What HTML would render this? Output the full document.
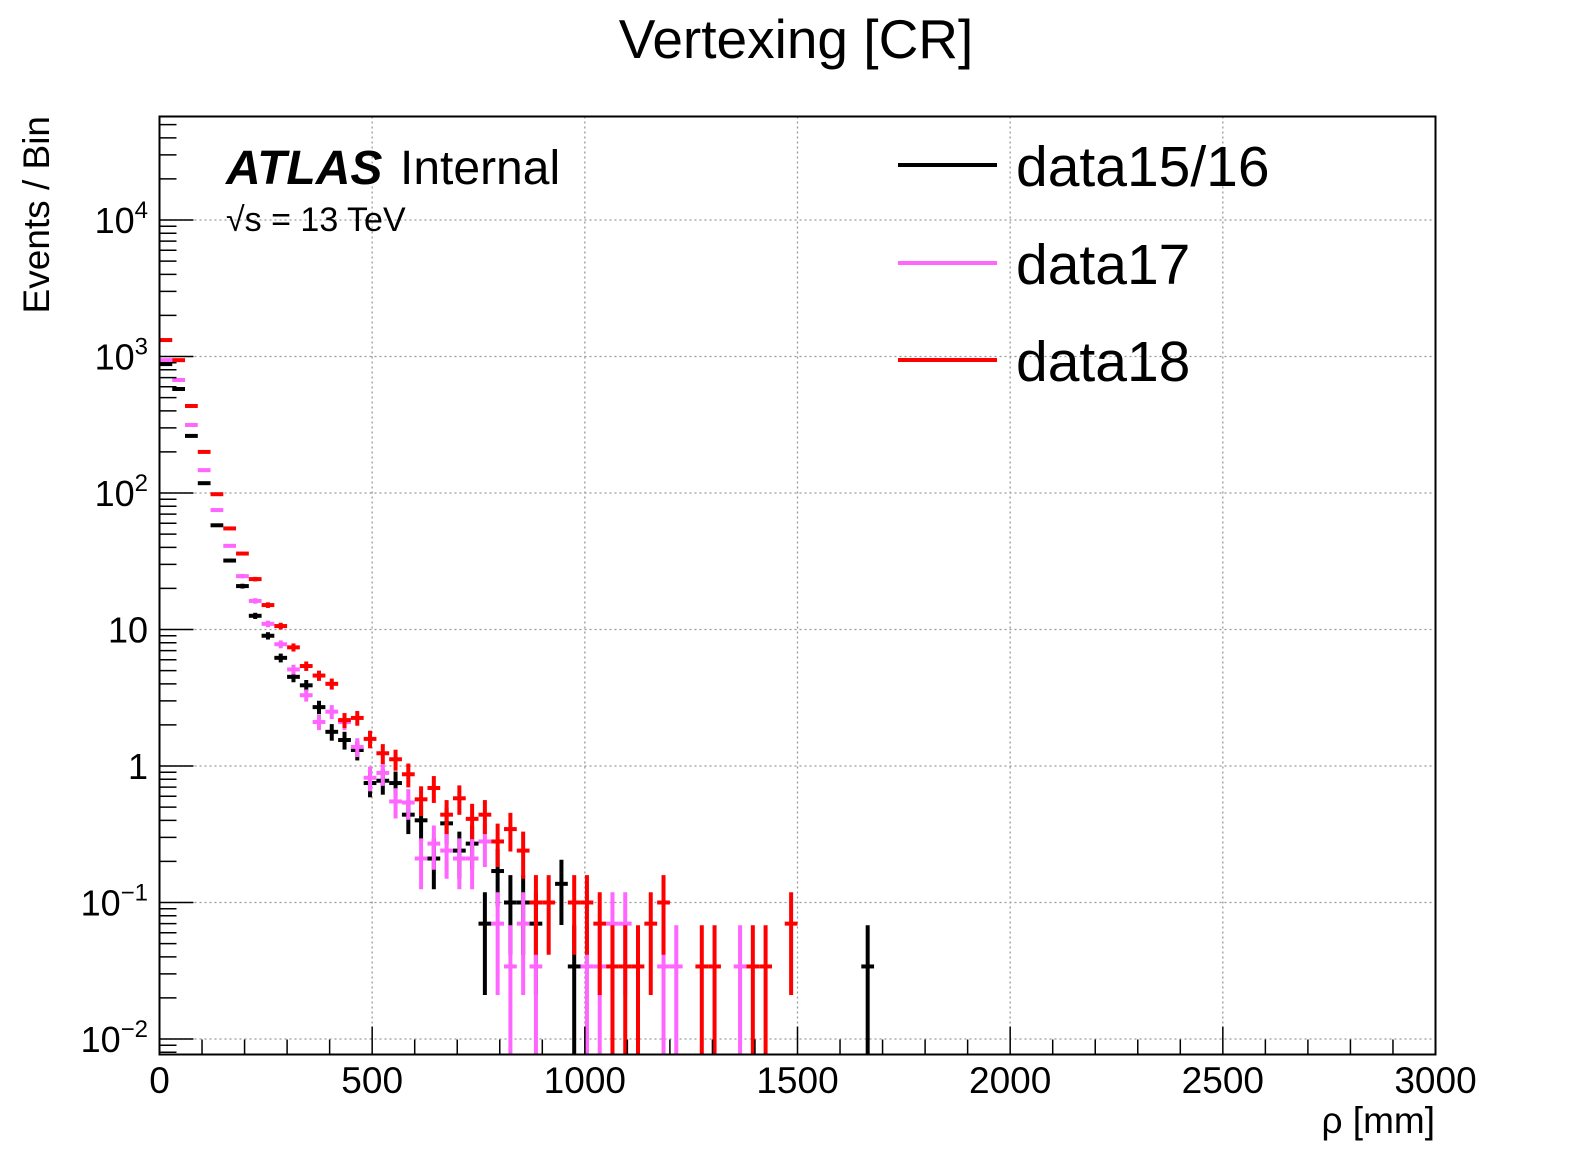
<!DOCTYPE html>
<html>
<head>
<meta charset="utf-8">
<style>
  html, body { margin: 0; padding: 0; background: #fff; }
  svg { display: block; font-family: "Liberation Sans", Arial, sans-serif; }
</style>
</head>
<body>
<svg id="chart" width="1596" height="1172" viewBox="0 0 1596 1172" xmlns="http://www.w3.org/2000/svg">
  <rect x="0" y="0" width="1596" height="1172" fill="#fff"/>
  <text x="796" y="58" font-size="55" text-anchor="middle">Vertexing [CR]</text>
  <g id="grid"></g>
  <g id="series"></g>
  <g id="axes"></g>
  <text x="226" y="184" font-size="48" font-weight="bold" font-style="italic">ATLAS</text>
  <text x="400" y="184" font-size="48">Internal</text>
  <text x="226" y="231" font-size="34">√s = 13 TeV</text>
  <g>
    <g>
      <line x1="898" y1="165" x2="997" y2="165" stroke="#000" stroke-width="4"/>
      <text x="1016" y="186" font-size="57">data15/16</text>
    </g>
    <g>
      <line x1="898" y1="263" x2="997" y2="263" stroke="#ff66ff" stroke-width="4"/>
      <text x="1016" y="284" font-size="57">data17</text>
    </g>
    <g>
      <line x1="898" y1="360" x2="997" y2="360" stroke="#ff0000" stroke-width="4"/>
      <text x="1016" y="381" font-size="57">data18</text>
    </g>
  </g>
  <text x="1435" y="1133" font-size="37" text-anchor="end">ρ [mm]</text>
  <text transform="translate(49,116) rotate(-90)" font-size="37" text-anchor="end">Events / Bin</text>
</svg>
<script>
// ---- data ----
const binWidth = 30; // mm
const xTicks = [0, 500, 1000, 1500, 2000, 2500, 3000];
const yTickExps = [-2, -1, 0, 1, 2, 3, 4];
const scaleW = 0.0343; // per-event weight for error bars
const data1516 = [880, 578, 262, 118, 58, 32, 20.8, 12.6, 9.0, 6.2, 4.5, 3.9, 2.7, 1.78, 1.55, 1.31, 0.75, 0.78, 0.75, 0.44, 0.40, 0.21, 0.38, 0.24, 0.27, 0.07, 0.17, 0.10, 0.10, 0.07, null, 0.137, 0.034, null, null, null, null, null, null, null, null, null, null, null, null, null, null, null, null, null, null, null, null, null, null, 0.034];
const data17 = [940, 673, 315, 147, 75, 41, 24.6, 16.2, 11, 7.8, 5.1, 3.3, 2.1, 2.5, 2.1, 1.38, 0.82, 0.89, 0.55, 0.54, 0.21, 0.27, 0.24, 0.21, 0.21, 0.28, 0.07, 0.034, 0.07, 0.034, null, null, null, 0.034, 0.034, 0.07, 0.07, null, null, 0.034, 0.034, null, null, null, null, 0.034];
const data18 = [1320, 940, 434, 200, 98, 55, 36, 23.4, 15.1, 10.6, 7.4, 5.4, 4.6, 4.0, 2.17, 2.25, 1.58, 1.24, 1.12, 0.87, 0.57, 0.69, 0.44, 0.58, 0.41, 0.44, 0.28, 0.345, 0.24, 0.10, 0.10, null, 0.10, 0.10, 0.07, 0.034, 0.034, 0.034, 0.07, 0.10, null, null, 0.034, 0.034, null, null, 0.034, 0.034, null, 0.07];

// ---- geometry ----
const L = 159.5, R = 1435.5, T = 116.5, B = 1054.5;
const Y1 = 766, DEC = 136.5;
const xS = v => L + (v / 3000) * (R - L);
const yS = v => Y1 - Math.log10(v) * DEC;
const NS = 'http://www.w3.org/2000/svg';
function mk(tag, attrs, parent) {
  const e = document.createElementNS(NS, tag);
  for (const k in attrs) e.setAttribute(k, attrs[k]);
  parent.appendChild(e);
  return e;
}
const grid = document.getElementById('grid');
const axes = document.getElementById('axes');
const series = document.getElementById('series');

xTicks.forEach(t => {
  if (t === 0 || t === 3000) return;
  const l = mk('line', {x1: xS(t), x2: xS(t), y1: T, y2: B, stroke: '#999', 'stroke-width': 1.3, 'stroke-dasharray': '2,3'}, grid);
  
  
});
yTickExps.forEach(e => {
  const y = yS(Math.pow(10, e));
  const l = mk('line', {x1: L, x2: R, y1: y, y2: y, stroke: '#999', 'stroke-width': 1.3, 'stroke-dasharray': '2,3'}, grid);
  
  
});

function drawSeries(vals, color, name) {
  const g = mk('g', {}, series);
  
  
  vals.forEach((v, i) => {
    if (v === null || v <= 0) return;
    const x0 = xS(i * binWidth), x1 = xS((i + 1) * binWidth), xc = (x0 + x1) / 2;
    const err = Math.sqrt(v * scaleW);
    const yc = yS(v);
    const yHi = Math.max(T, yS(v + err));
    const yLo = (v - err) > 0 ? Math.min(B, yS(v - err)) : B;
    const pt = mk('g', {}, g);
    
    
    mk('line', {x1: x0, x2: x1, y1: yc, y2: yc, stroke: color, 'stroke-width': 4}, pt);
    mk('line', {x1: xc, x2: xc, y1: yHi, y2: yLo, stroke: color, 'stroke-width': 4}, pt);
  });
}
drawSeries(data1516, '#000000', 'series-data15-16');
drawSeries(data17, '#ff66ff', 'series-data17');
drawSeries(data18, '#ff0000', 'series-data18');

const fr = mk('rect', {x: L, y: T, width: R - L, height: B - T, fill: 'none', stroke: '#000', 'stroke-width': 2}, axes);



for (let v = 0; v <= 3000; v += 100) {
  const major = v % 500 === 0;
  const x = xS(v);
  const t = mk('line', {x1: x, x2: x, y1: B, y2: B - (major ? 28 : 15), stroke: '#000', 'stroke-width': 1.5}, axes);
  
  
}
xTicks.forEach(v => {
  const t = mk('text', {x: xS(v), y: 1093, 'font-size': 37, 'text-anchor': 'middle'}, axes);
  t.textContent = String(v);
  
  
});

for (let e = -3; e <= 4; e++) {
  for (let m = 1; m <= 9; m++) {
    const v = m * Math.pow(10, e);
    const y = yS(v);
    if (y < T - 0.5 || y > B + 0.5) continue;
    const t = mk('line', {x1: L, x2: L + (m === 1 ? 34 : 17), y1: y, y2: y, stroke: '#000', 'stroke-width': 1.5}, axes);
    
    
  }
}
yTickExps.forEach(e => {
  const y = yS(Math.pow(10, e)) + 13;
  const t = mk('text', {x: 148, y: y, 'font-size': 36, 'text-anchor': 'end'}, axes);
  
  
  if (e === 0) t.textContent = '1';
  else if (e === 1) t.textContent = '10';
  else {
    const a = document.createElementNS(NS, 'tspan');
    a.textContent = '10';
    t.appendChild(a);
    const b = document.createElementNS(NS, 'tspan');
    b.setAttribute('dy', '-15');
    b.setAttribute('font-size', '24');
    b.textContent = e < 0 ? '\u2212' + (-e) : String(e);
    t.appendChild(b);
  }
});
</script>
</body>
</html>
